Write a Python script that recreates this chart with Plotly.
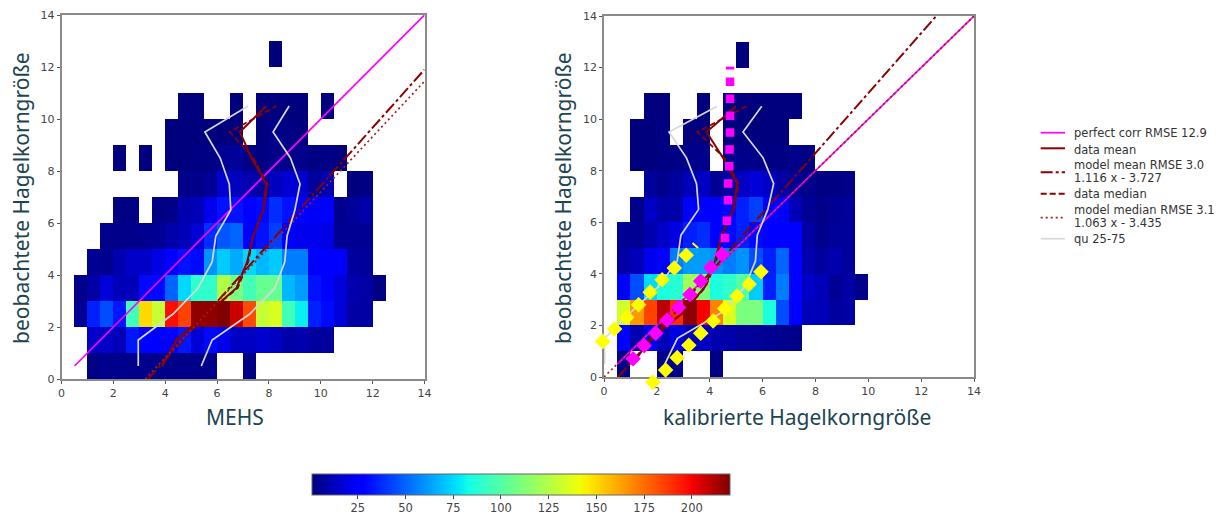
import plotly.graph_objects as go

_ = None
x_edges = [i * 0.5 for i in range(29)]
y_edges = list(range(15))

# rows bottom to top, columns are 0.5 wide starting at x = 0
left_z = [
 [_,_,2,4,4,3,4,3,3,3,3,3,_,_,2,_,_,_,_,_,_,_,_,_,_,_,_,_],
 [_,_,15,15,12,33,27,27,26,33,18,30,22,14,14,16,14,9,10,7,6,_,_,_,_,_,_,_],
 [_,5,35,45,33,95,150,130,197,185,217,217,220,207,183,130,135,95,80,35,30,18,8,8,_,_,_,_],
 [_,3,8,18,12,12,30,30,50,75,90,90,125,110,95,105,105,68,62,32,25,18,10,8,2,_,_,_],
 [_,_,5,4,10,15,15,20,25,32,30,60,72,65,75,68,72,55,55,28,28,25,7,6,_,_,_,_],
 [_,_,_,3,3,3,4,5,9,12,17,38,47,50,25,32,42,28,22,22,20,5,5,5,_,_,_,_],
 [_,_,_,_,2,2,_,2,3,10,12,22,32,32,28,30,38,32,26,24,26,4,6,9,_,_,_,_],
 [_,_,_,_,_,_,_,_,_,3,3,5,16,13,10,8,13,17,16,6,10,_,1,2,_,_,_,_],
 [_,_,_,_,1,_,1,_,1,1,2,2,5,6,2,2,3,3,3,2,2,1,_,_,_,_,_,_],
 [_,_,_,_,_,_,_,_,1,1,1,1,1,1,_,1,4,2,1,_,_,_,_,_,_,_,_,_],
 [_,_,_,_,_,_,_,_,_,1,1,_,_,1,_,1,1,1,1,_,1,_,_,_,_,_,_,_],
 [_]*28,
 [_,_,_,_,_,_,_,_,_,_,_,_,_,_,_,_,1,_,_,_,_,_,_,_,_,_,_,_],
 [_]*28,
]
right_z = [
 [_,3,_,_,3,3,_,_,2,_]+[_]*18,
 [_,28,10,22,12,20,12,14,10,9,6,6,5,4,3,_]+[_]*12,
 [_,133,165,185,210,190,218,200,170,135,110,110,85,45,25,12,12,7,8]+[_]*9,
 [_,28,45,75,85,88,120,110,85,90,100,72,35,55,25,15,12,5,8,3]+[_]*8,
 [_,8,12,22,25,55,62,62,60,55,60,45,35,50,25,10,7,10,6]+[_]*9,
 [_,5,5,10,15,20,35,38,25,30,35,30,25,25,25,8,4,6,6]+[_]*9,
 [_,_,3,14,9,9,28,28,25,30,35,42,28,25,12,5,3,5,6]+[_]*9,
 [_,_,_,6,4,7,12,14,5,8,14,18,14,8,5,3,2,2,3]+[_]*9,
 [_,_,1,1,2,2,3,3,_,3,3,3,2,2,3,2]+[_]*12,
 [_,_,1,1,2,_,1,1,_,1,1,1,1,1]+[_]*14,
 [_,_,_,1,1,_,_,1,_,1,1,1,1,1,1]+[_]*13,
 [_]*28,
 [_,_,_,_,_,_,_,_,_,_,1]+[_]*17,
 [_]*28,
]

y_centres = [0.5, 1.5, 2.5, 3.5, 4.5, 5.5, 6.5, 7.5, 8.5, 9.5, 10.5]

left_q25 = [2.96, 2.96, 4.3, 5.27, 5.81, 5.95, 6.53, 6.47, 6.12, 5.53, 7.2]
left_q75 = [5.39, 5.81, 7.26, 8.23, 8.61, 8.7, 9.0, 9.2, 8.83, 8.16, 8.78]
left_mean = [3.86, 4.46, 5.6, 6.75, 7.16, 7.39, 7.78, 7.9, 7.33, 6.88, 7.9]
left_median = [3.9, 4.4, 5.6, 6.8, 7.2, 7.4, 7.8, 7.95, 7.4, 6.49, 8.29]
left_model_mean_x, left_model_mean_y = [3.34, 14], [0, 11.9]
left_model_median_x, left_model_median_y = [3.23, 14], [0, 11.45]

right_q25 = [0.02, 0.02, 1.0, 2.05, 2.77, 2.91, 3.58, 3.5, 3.12, 2.46, 4.28]
right_q75 = [2.3, 2.78, 4.45, 5.33, 5.73, 5.8, 6.2, 6.42, 6.02, 5.26, 5.97]
right_mean = [1.05, 1.8, 3.0, 3.82, 4.2, 4.45, 4.89, 5.04, 4.5, 3.88, 5.0]
right_median = [1.1, 1.75, 3.0, 3.85, 4.25, 4.47, 4.92, 5.1, 4.55, 3.53, 5.39]
right_model_mean_x, right_model_mean_y = [0.54, 12.57], [0, 14]
right_model_median_x, right_model_median_y = [0, 14], [0, 14]

perfect_x, perfect_y = [0.5, 14], [0.5, 14]

pink_sq_x = [4.77, 4.77, 4.77, 4.77, 4.75, 4.74, 4.70, 4.69, 4.65, 4.58]
pink_sq_y = [11.45, 10.79, 10.13, 9.48, 8.82, 8.17, 7.5, 6.85, 6.06, 5.39]
pink_dia_x = [4.47, 4.04, 3.66, 3.25, 2.82, 2.39, 1.96, 1.52, 1.1]
pink_dia_y = [4.75, 4.25, 3.72, 3.2, 2.7, 2.21, 1.7, 1.21, 0.71]
pink_cap_x, pink_cap_y = [4.77, 4.77], [11.93, 12.03]

yellow_a_x = [-0.05, 0.4, 0.86, 1.31, 1.75, 2.2, 2.66, 3.11]
yellow_a_y = [1.38, 1.86, 2.32, 2.8, 3.29, 3.77, 4.23, 4.72]
yellow_tail_x, yellow_tail_y = [3.35, 3.56], [5.2, 5.0]
yellow_b_x = [1.85, 2.33, 2.77, 3.21, 3.66, 4.13, 4.57, 5.03, 5.49, 5.94]
yellow_b_y = [-0.2, 0.27, 0.75, 1.23, 1.7, 2.17, 2.66, 3.14, 3.6, 4.08]

series_names = [
    "perfect corr RMSE 12.9", "data mean", "model mean RMSE 3.0 1.116 x - 3.727",
    "data median", "model median RMSE 3.1 1.063 x - 3.435", "qu 25-75",
]
legend_lines = [
    ("perfect corr RMSE 12.9", 132.7), ("data mean", 149.7),
    ("model mean RMSE 3.0", 165), ("1.116 x - 3.727", 178),
    ("data median", 194.3), ("model median RMSE 3.1", 209.5),
    ("1.063 x - 3.435", 222.5), ("qu 25-75", 239),
]
colorbar_ticks = [25, 50, 75, 100, 125, 150, 175, 200]

JET = [
    [0.0, "rgb(0,0,127)"], [0.11, "rgb(0,0,255)"], [0.125, "rgb(0,0,255)"],
    [0.34, "rgb(0,219,255)"], [0.35, "rgb(0,229,250)"], [0.375, "rgb(20,255,230)"],
    [0.64, "rgb(240,255,8)"], [0.65, "rgb(247,245,0)"], [0.66, "rgb(255,236,0)"],
    [0.89, "rgb(255,19,0)"], [0.91, "rgb(246,0,0)"], [1.0, "rgb(127,0,0)"],
]
MAGENTA, DARK, MEDIAN_DOT, GREY = "#ff00ff", "#8b0000", "#a02020", "#d8d8d8"
MM_DASH = "12px,3px,3px,3px"
MEAN_W, DASH_MED, DOT = 2, "6px,3px", "2px,3px"
THIN = 1.7

W, H = 1227, 515
fig = go.Figure()


def panel(z, q25, q75, mean, median, mmx, mmy, mdx, mdy, xa, ya):
    fig.add_trace(go.Heatmap(z=z, x=x_edges, y=y_edges, coloraxis="coloraxis",
                             hoverongaps=False, xaxis=xa, yaxis=ya))
    common = dict(mode="lines", xaxis=xa, yaxis=ya, showlegend=False)
    fig.add_trace(go.Scatter(x=perfect_x, y=perfect_y, name=series_names[0],
                             line=dict(color=MAGENTA, width=THIN), **common))
    fig.add_trace(go.Scatter(x=mean, y=y_centres, name=series_names[1],
                             line=dict(color=DARK, width=MEAN_W), **common))
    fig.add_trace(go.Scatter(x=mmx, y=mmy, name=series_names[2],
                             line=dict(color=DARK, width=2, dash=MM_DASH), **common))
    fig.add_trace(go.Scatter(x=median, y=y_centres, name=series_names[3],
                             line=dict(color=DARK, width=THIN, dash=DASH_MED), **common))
    fig.add_trace(go.Scatter(x=mdx, y=mdy, name=series_names[4],
                             line=dict(color=MEDIAN_DOT, width=THIN, dash=DOT), **common))
    fig.add_trace(go.Scatter(x=q25, y=y_centres, name=series_names[5],
                             line=dict(color=GREY, width=THIN), **common))
    fig.add_trace(go.Scatter(x=q75, y=y_centres, name=series_names[5],
                             line=dict(color=GREY, width=THIN), **common))


panel(left_z, left_q25, left_q75, left_mean, left_median,
      left_model_mean_x, left_model_mean_y, left_model_median_x, left_model_median_y, "x", "y")
panel(right_z, right_q25, right_q75, right_mean, right_median,
      right_model_mean_x, right_model_mean_y, right_model_median_x, right_model_median_y, "x2", "y2")

# overlay markers spill past the frame, so they use a hidden wider pair of axes with the same scale
over = dict(xaxis="x3", yaxis="y3", showlegend=False)
fig.add_trace(go.Scatter(x=pink_sq_x, y=pink_sq_y, mode="markers",
                         marker=dict(symbol="square", size=8.5, color=MAGENTA), **over))
fig.add_trace(go.Scatter(x=pink_dia_x, y=pink_dia_y, mode="markers",
                         marker=dict(symbol="diamond", size=12, color=MAGENTA), **over))
fig.add_trace(go.Scatter(x=pink_cap_x, y=pink_cap_y, mode="lines",
                         line=dict(color=MAGENTA, width=8.5), **over))
fig.add_trace(go.Scatter(x=yellow_a_x, y=yellow_a_y, mode="markers",
                         marker=dict(symbol="diamond", size=12, color="#ffff00"), **over))
fig.add_trace(go.Scatter(x=yellow_b_x, y=yellow_b_y, mode="markers",
                         marker=dict(symbol="diamond", size=12, color="#ffff00"), **over))
fig.add_trace(go.Scatter(x=yellow_tail_x, y=yellow_tail_y, mode="lines",
                         line=dict(color="#ffff00", width=2), **over))

tick_font = dict(family="DejaVu Sans", size=11, color="#444444")
title_font = dict(family="Noto Sans", size=21, color="#1d4451")
axis = dict(range=[0, 14], dtick=2, tick0=0, showgrid=False, zeroline=False, mirror=True,
            showline=True, linecolor="#8a8a8a", linewidth=1.5, ticks="outside", ticklen=3,
            tickcolor="#555555", tickfont=tick_font, automargin=False)
px_x = 370 / 14
px_y = 361 / 14

annotations = []
for text, xp, yp, ang in [("MEHS", 235, 417, 0), ("kalibrierte Hagelkorngröße", 797, 417, 0),
                          ("beobachtete Hagelkorngröße", 21, 198, -90),
                          ("beobachtete Hagelkorngröße", 563, 198, -90)]:
    annotations.append(dict(text=text, x=xp / W, y=1 - yp / H, xref="paper", yref="paper",
                            xanchor="center", yanchor="middle", showarrow=False,
                            textangle=ang, font=title_font))
for text, yp in legend_lines:
    annotations.append(dict(text=text, x=1073.3 / W, y=1 - yp / H, xref="paper", yref="paper",
                            xanchor="left", yanchor="middle", showarrow=False, xshift=-1,
                            font=dict(family="DejaVu Sans", size=11.5, color="#333333")))

shapes = []
for yp, color, width, dash in [(132.7, MAGENTA, THIN, "solid"), (148.3, DARK, MEAN_W, "solid"),
                               (172.3, DARK, 2, MM_DASH), (193.7, DARK, 2, DASH_MED),
                               (217.7, MEDIAN_DOT, THIN, DOT), (238.7, GREY, THIN, "solid")]:
    shapes.append(dict(type="line", xref="paper", yref="paper", x0=1040.7 / W, x1=1065 / W,
                       y0=1 - yp / H, y1=1 - yp / H, line=dict(color=color, width=width, dash=dash)))

fig.update_layout(
    width=W, height=H, margin=dict(l=0, r=0, t=0, b=0, autoexpand=False),
    paper_bgcolor="white", plot_bgcolor="rgba(0,0,0,0)", showlegend=False,
    annotations=annotations, shapes=shapes,
    xaxis=dict(axis, domain=[61.5 / W, 424.5 / W], anchor="y"),
    yaxis=dict(axis, domain=[1 - 379 / H, 1 - 15 / H], anchor="x"),
    xaxis2=dict(axis, domain=[604 / W, 974 / W], anchor="y2"),
    yaxis2=dict(axis, domain=[1 - 377 / H, 1 - 16 / H], anchor="x2"),
    xaxis3=dict(visible=False, range=[-1, 14.5], anchor="y3",
                domain=[(604 - px_x) / W, (974 + 0.5 * px_x) / W]),
    yaxis3=dict(visible=False, range=[-1, 14.5], anchor="x3",
                domain=[1 - (377 + px_y) / H, 1 - (16 - 0.5 * px_y) / H]),
    coloraxis=dict(
        colorscale=JET, cmin=1, cmax=220,
        colorbar=dict(orientation="h", lenmode="pixels", len=418, thicknessmode="pixels", thickness=21,
                      x=312 / W, xanchor="left", y=1 - 474 / H, yanchor="top",
                      xpad=0, ypad=0, tickvals=colorbar_ticks, ticks="outside", ticklen=3.5,
                      tickfont=dict(tick_font, size=11.5), outlinecolor="#666666", outlinewidth=1),
    ),
)
fig.write_html("out.html", config=dict(displayModeBar=False),
               post_script="document.body.style.margin='0';")
